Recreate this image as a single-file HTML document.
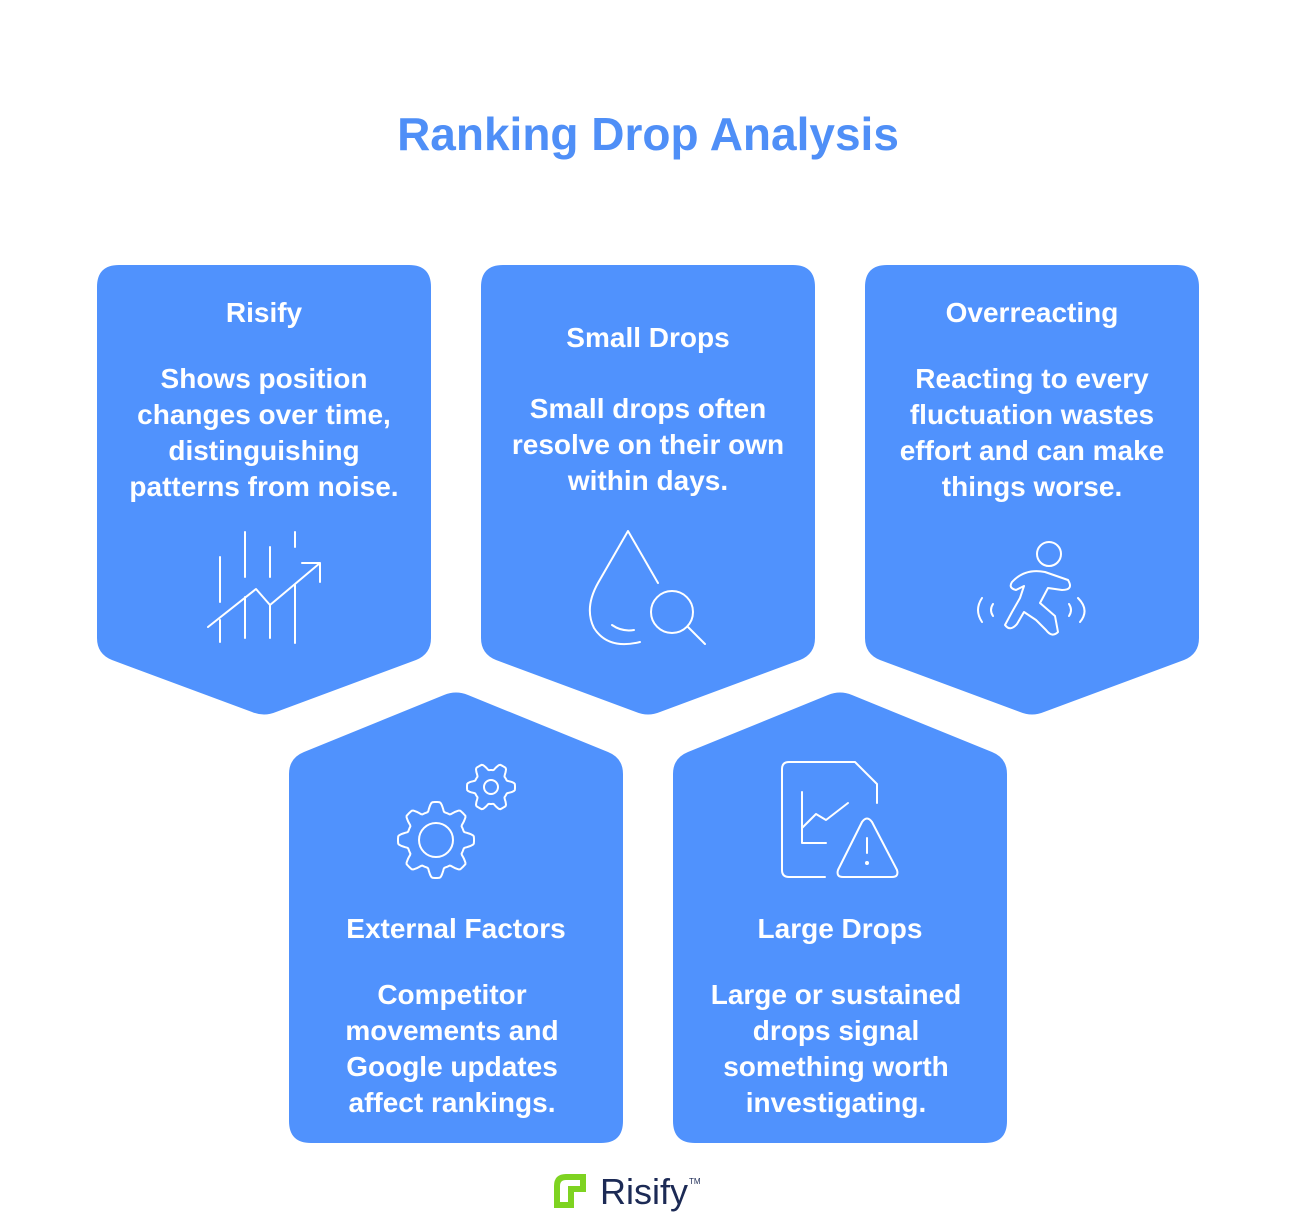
<!DOCTYPE html>
<html><head><meta charset="utf-8">
<style>
html,body{margin:0;padding:0;background:#fff;}
svg{display:block;}
text{font-family:"Liberation Sans",Arial,sans-serif;font-weight:bold;}
</style></head>
<body>
<svg id="s" width="1296" height="1227" viewBox="0 0 1296 1227" xmlns="http://www.w3.org/2000/svg">
<text x="648" y="150" text-anchor="middle" font-size="46" fill="#4f8ff7">Ranking Drop Analysis</text>
<g fill="#5092fd">
<path d="M97,287 Q97,265 119,265 H409 Q431,265 431,287 V638 Q431,654 416,660 L276,712 Q264,717 252,712 L112,660 Q97,654 97,638 Z"/>
<path d="M481,287 Q481,265 503,265 H793 Q815,265 815,287 V638 Q815,654 800,660 L660,712 Q648,717 636,712 L496,660 Q481,654 481,638 Z"/>
<path d="M865,287 Q865,265 887,265 H1177 Q1199,265 1199,287 V638 Q1199,654 1184,660 L1044,712 Q1032,717 1020,712 L880,660 Q865,654 865,638 Z"/>
<path d="M289,1121 V774 Q289,758 304,752 L444,695 Q456,690 468,695 L608,752 Q623,758 623,774 V1121 Q623,1143 601,1143 H311 Q289,1143 289,1121 Z"/>
<path d="M673,1121 V774 Q673,758 688,752 L828,695 Q840,690 852,695 L992,752 Q1007,758 1007,774 V1121 Q1007,1143 985,1143 H695 Q673,1143 673,1121 Z"/>
</g>
<g fill="#fff" text-anchor="middle" font-size="28">
<text x="264" y="322">Risify</text>
<text x="264" y="388">Shows position</text>
<text x="264" y="424">changes over time,</text>
<text x="264" y="460">distinguishing</text>
<text x="264" y="496">patterns from noise.</text>
<text x="648" y="347">Small Drops</text>
<text x="648" y="418">Small drops often</text>
<text x="648" y="454">resolve on their own</text>
<text x="648" y="490">within days.</text>
<text x="1032" y="322">Overreacting</text>
<text x="1032" y="388">Reacting to every</text>
<text x="1032" y="424">fluctuation wastes</text>
<text x="1032" y="460">effort and can make</text>
<text x="1032" y="496">things worse.</text>
<text x="456" y="938">External Factors</text>
<text x="452" y="1004">Competitor</text>
<text x="452" y="1040">movements and</text>
<text x="452" y="1076">Google updates</text>
<text x="452" y="1112">affect rankings.</text>
<text x="840" y="938">Large Drops</text>
<text x="836" y="1004">Large or sustained</text>
<text x="836" y="1040">drops signal</text>
<text x="836" y="1076">something worth</text>
<text x="836" y="1112">investigating.</text>
</g>
<g fill="none" stroke="#fff" stroke-width="2" stroke-linecap="round" stroke-linejoin="round">
<path d="M220,557 V602 M245,532 V577 M270,547 V577 M295,532 V547 M220,620 V642 M245,597 V638 M270,605 V638 M295,585 V643"/>
<path d="M208,627 L256,589 L270,605 L320,563 M302,563 H320 V582"/>
<path d="M658,583 L628,531 L598,583 Q584,608 594,628 Q608,650 640,642"/>
<path d="M612,625 Q622,632 634,630"/>
<circle cx="672" cy="612" r="21"/>
<path d="M688,627 L705,644"/>
<circle cx="1049" cy="554" r="12"/>
<path d="M1012,582 Q1025,568 1045,572 L1068,580 Q1074,590 1062,590 L1048,588 L1040,603 L1055,616 L1058,632 Q1052,638 1046,630 L1036,620 L1024,612 L1017,624 Q1010,632 1005,625 L1012,612 L1020,598 L1024,586 L1016,590 Q1008,588 1012,582 Z"/>
<path d="M982,598 Q974,610 982,622 M993,604 Q989,610 993,616 M1078,598 Q1090,610 1080,622 M1069,604 Q1073,610 1069,616"/>
<path id="g1"/><path id="g2"/>
<circle cx="436" cy="840" r="17"/>
<circle cx="491" cy="787" r="7"/>
<path d="M825,877 H789 Q782,877 782,870 V769 Q782,762 789,762 H855 L877,784 V803"/>
<path d="M802,792 V843 H826 M802,828 L816,814 L826,820 L848,803"/>
<path d="M862,822 Q867,815 872,822 L897,870 Q899,877 892,877 H843 Q836,877 838,870 Z M867,838 V853"/>
<circle cx="867" cy="863" r="1" fill="#fff"/>
</g>
<path d="M554,1208 V1186 Q554,1174 566,1174 H586 V1192 H574 V1208 Z M560,1202 V1186 Q560,1180 566,1180 H580 V1186 H568 V1202 Z" fill="#7ed321" fill-rule="evenodd"/>
<text x="600" y="1204" font-size="36" fill="#1c2a55" style="font-weight:normal">Risify</text>
<text x="689" y="1184" font-size="8" fill="#1c2a55" style="font-weight:normal">TM</text>
</svg>
<script>
function gear(cx,cy,ro,ri,n){var d="",N=n*24;for(var i=0;i<=N;i++){var a=i/N*2*Math.PI;var t=(Math.cos(a*n)+1)/2;t=Math.max(0,Math.min(1,(t-0.5)*1.6+0.5));var r=ri+(ro-ri)*t;d+=(i?"L":"M")+(cx+r*Math.cos(a)).toFixed(1)+","+(cy+r*Math.sin(a)).toFixed(1);}return d+"Z";}
document.getElementById("g1").setAttribute("d",gear(436,840,38,29,8));
document.getElementById("g2").setAttribute("d",gear(491,787,24,17,6));
</script>
</body></html>
